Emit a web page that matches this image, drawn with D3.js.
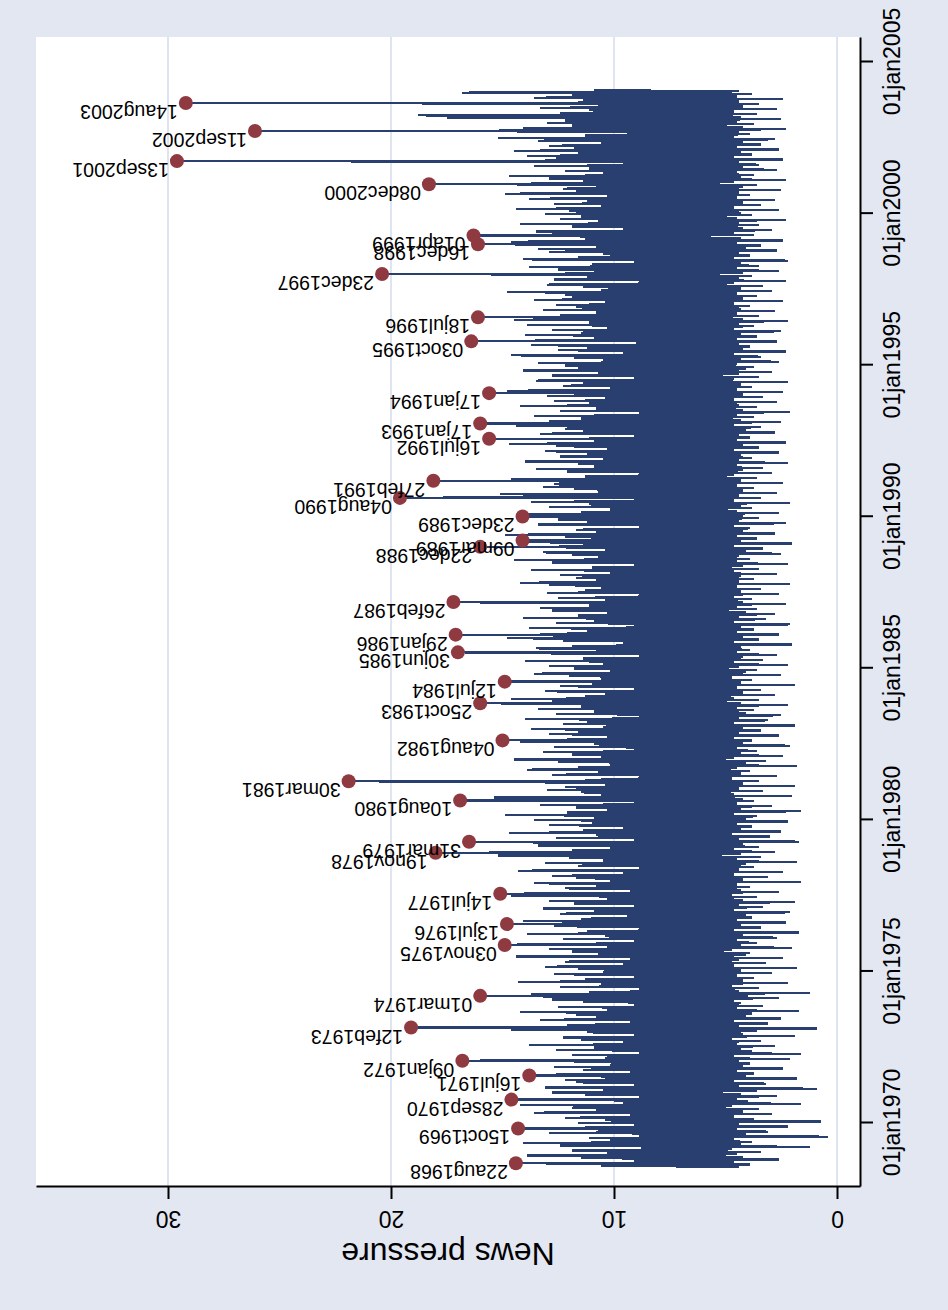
<!DOCTYPE html>
<html>
<head>
<meta charset="utf-8">
<script src="https://cdn.jsdelivr.net/npm/d3@7"></script>
<style>
  body { margin: 0; background: #e2e7f1; }
  svg { display: block; }
  text { font-family: "Liberation Sans", Arial, sans-serif; }
</style>
</head>
<body>
<svg id="chart" width="948" height="1310"></svg>
<script>
// half-monthly news pressure readings, one block per four years
const pressure1968to1971 = [
  4.4,10.6, 3.9,12.8, 4.6,9.1, 2.6,11.5, 4.2,13.9, 4.5,10.3,
  3.4,11.9, 4.7,8.8, 1.2,12.4, 4.3,14.1, 3.8,10.2, 4.6,11.1, 0.4,8.9, 4.1,12.9, 3.1,10.7, 4.5,13.2, 2.2,9.1, 4.4,11.6,
  0.7,10.4, 3.7,12.2, 4.6,9.3, 2.9,13.6, 4.2,10.8, 3.5,11.9, 4.7,14.2, 1.6,9.6, 4.0,12.5, 4.5,8.9, 2.7,11.3, 4.3,12.8,
  3.6,10.5, 0.9,13.1, 4.4,9.1, 3.2,11.7, 4.6,12.2, 1.8,10.6, 4.1,14.0, 3.7,9.3, 4.5,11.4, 2.4,12.7, 4.2,10.2, 3.9,11.8
];
const pressure1972to1975 = [
  4.4,13.4, 2.1,10.4, 4.6,11.9, 1.6,8.9, 3.8,12.6, 4.3,10.9, 2.8,13.8, 4.5,9.6, 3.4,11.5, 4.7,12.3, 1.9,9.1, 4.2,11.2,
  3.6,14.6, 0.9,10.6, 4.4,12.1, 3.1,9.3, 4.6,13.3, 2.5,10.8, 4.1,11.7, 3.8,14.2, 1.7,10.3, 4.5,12.5, 3.3,9.1, 4.3,11.4,
  4.6,12.8, 2.6,10.2, 4.0,13.7, 1.2,11.1, 4.4,8.9, 3.5,12.4, 4.7,10.6, 2.2,14.3, 4.2,11.3, 3.7,9.1, 4.5,12.7, 2.9,10.5,
  4.3,11.6, 1.8,13.1, 4.6,9.6, 3.2,12.2, 4.4,9.3, 2.4,14.4, 4.1,10.7, 3.9,11.9, 4.7,12.9, 2.0,10.3, 4.3,13.5, 3.6,9.1
];
const pressure1976to1979 = [
  4.5,12.3, 2.7,10.4, 4.2,13.9, 1.7,11.2, 4.6,8.9, 3.4,12.7, 4.3,10.6, 2.3,14.1, 4.5,11.5, 3.8,9.4, 4.1,12.4, 2.1,10.9,
  4.6,13.2, 3.3,9.1, 4.4,11.8, 1.9,12.9, 4.2,10.3, 3.6,14.6, 4.7,11.1, 2.6,9.3, 4.3,12.2, 3.9,10.8, 4.5,13.6, 1.6,10.2,
  4.2,11.7, 3.1,12.8, 4.6,9.6, 2.4,14.3, 4.4,8.9, 3.7,11.6, 4.1,13.1, 1.8,10.5, 4.5,12.0, 3.4,15.2, 4.3,10.7, 2.8,11.9,
  4.6,10.2, 3.5,13.4, 4.2,11.3, 1.7,9.1, 4.4,12.6, 3.0,10.8, 4.7,14.7, 2.5,11.4, 4.3,9.6, 3.8,12.9, 4.5,11.0, 2.2,13.6
];
const pressure1980to1983 = [
  4.1,10.9, 3.6,14.9, 4.6,12.1, 1.6,10.3, 4.3,11.7, 2.9,13.3, 4.5,9.1, 3.7,12.4, 4.2,15.4, 2.0,10.6, 4.6,11.5, 3.3,13.0,
  4.4,12.2, 1.9,10.4, 4.2,14.1, 3.5,11.3, 4.7,8.9, 2.7,12.8, 4.3,10.7, 3.9,13.9, 4.5,11.6, 1.8,10.2, 4.1,12.5, 3.2,14.5,
  4.6,10.6, 2.4,11.9, 4.3,13.2, 3.6,9.1, 4.5,12.7, 2.1,10.9, 4.2,14.2, 3.8,11.1, 4.6,10.3, 2.6,12.9, 4.4,11.6, 3.4,13.7,
  4.2,10.5, 1.9,12.3, 4.6,11.2, 3.1,14.0, 4.4,8.9, 2.5,12.6, 4.1,10.9, 3.7,13.4, 4.5,11.5, 2.2,10.2, 4.3,12.8, 3.5,14.6
];
const pressure1984to1987 = [
  4.6,11.3, 2.8,10.4, 4.2,13.1, 3.4,9.1, 4.5,12.4, 1.9,11.0, 4.3,14.3, 3.8,10.6, 4.7,12.0, 2.5,13.6, 4.1,10.2, 3.6,11.8,
  4.4,12.9, 2.2,10.5, 4.6,14.0, 3.3,11.4, 4.2,8.9, 2.7,12.7, 4.5,10.8, 3.9,13.5, 4.3,11.9, 2.0,9.6, 4.6,12.3, 3.5,14.8,
  4.2,10.7, 2.6,12.1, 4.5,11.2, 3.7,13.8, 4.3,9.1, 2.1,12.6, 4.6,10.9, 3.2,14.1, 4.4,11.6, 2.8,10.3, 4.1,12.8, 3.6,13.3,
  4.5,11.1, 2.3,14.4, 4.2,10.4, 3.8,12.5, 4.6,8.9, 2.6,13.0, 4.3,11.3, 3.4,10.6, 4.5,12.9, 2.1,14.2, 4.4,10.8, 3.7,11.7
];
const pressure1988to1991 = [
  4.3,12.4, 2.7,10.2, 4.6,13.7, 3.5,11.0, 4.2,9.1, 2.2,12.8, 4.5,14.5, 3.9,10.7, 4.4,11.9, 2.5,13.2, 4.1,10.4, 3.3,12.6,
  4.6,11.4, 2.0,13.9, 4.3,10.3, 3.6,12.2, 4.5,14.9, 2.8,10.8, 4.2,11.7, 3.9,8.9, 4.6,13.4, 2.3,11.2, 4.4,12.5, 3.5,10.6,
  4.2,14.3, 2.6,11.5, 4.5,10.2, 3.8,12.9, 4.3,11.1, 2.1,13.7, 4.6,9.1, 3.4,12.3, 4.4,15.1, 2.7,10.7, 4.2,11.8, 3.7,13.2,
  4.5,12.7, 2.4,10.4, 4.3,14.6, 3.6,11.3, 4.6,8.9, 2.9,12.1, 4.2,13.5, 3.3,10.9, 4.5,11.6, 2.2,14.0, 4.4,10.5, 3.8,12.4
];
const pressure1992to1995 = [
  4.3,11.2, 2.6,13.1, 4.6,10.3, 3.5,12.6, 4.2,14.7, 2.3,10.9, 4.5,11.8, 3.9,9.1, 4.4,13.3, 2.8,11.4, 4.1,12.2, 3.4,14.4,
  4.6,10.6, 2.5,12.9, 4.3,11.5, 3.7,13.6, 4.5,8.9, 2.1,12.4, 4.2,10.8, 3.6,14.2, 4.4,11.1, 2.7,12.7, 4.6,10.4, 3.3,13.0,
  4.2,11.9, 2.4,14.8, 4.5,10.2, 3.8,12.3, 4.3,11.4, 2.2,13.5, 4.6,9.1, 3.5,12.8, 4.4,10.7, 2.9,14.1, 4.1,11.6, 3.7,12.2,
  4.5,13.4, 2.6,10.5, 4.3,11.8, 3.4,14.6, 4.6,9.6, 2.3,12.5, 4.2,11.2, 3.9,13.7, 4.4,8.9, 2.7,12.0, 4.5,10.9, 3.6,14.0
];
const pressure1996to1999 = [
  4.3,11.5, 2.5,12.8, 4.6,10.3, 3.7,13.9, 4.4,11.1, 2.2,14.5, 4.2,9.1, 3.5,12.4, 4.5,10.8, 2.8,13.2, 4.3,11.7, 3.9,12.6,
  4.6,10.4, 2.4,13.6, 4.2,11.9, 3.6,12.2, 4.5,14.8, 2.9,10.6, 4.3,11.4, 3.3,13.0, 4.6,8.9, 2.3,12.7, 4.4,11.2, 3.8,14.3,
  4.2,10.9, 2.6,12.5, 4.5,13.8, 3.5,11.0, 4.3,9.1, 2.2,14.1, 4.6,11.6, 3.9,10.5, 4.4,12.9, 2.7,13.4, 4.1,10.8, 3.4,12.3,
  4.5,14.6, 2.4,11.3, 4.3,10.4, 3.7,12.8, 4.6,13.5, 2.9,9.6, 4.2,11.9, 3.5,14.2, 4.4,10.7, 2.3,12.4, 4.5,11.5, 3.8,13.1
];
const pressure2000to2003 = [
  4.3,12.0, 2.6,14.4, 4.6,10.6, 3.4,12.7, 4.2,11.2, 2.8,13.8, 4.5,10.3, 3.9,14.9, 4.4,11.7, 2.5,12.3, 4.2,10.8, 3.6,13.5,
  4.6,11.4, 2.3,12.9, 4.3,14.7, 3.7,10.5, 4.5,12.2, 2.7,11.1, 4.2,13.6, 3.5,9.6, 4.4,15.6, 2.4,12.6, 4.6,13.9, 3.8,11.6,
  4.3,14.5, 2.6,11.8, 4.5,12.9, 3.4,10.6, 4.2,13.4, 2.8,15.2, 4.6,11.3, 3.9,9.4, 4.4,12.7, 2.3,14.1, 4.2,11.9, 3.7,13.0,
  4.5,12.2, 2.5,17.5, 4.3,18.8, 3.6,12.4, 4.6,11.1, 2.7,13.3, 4.2,10.7, 3.5,12.5, 4.4,11.4, 2.4,13.6, 4.5,11.9, 3.8,16.8,
  4.4,10.9
];
const blockStarts = ["08jul1968", "01jan1972", "01jan1976", "01jan1980", "01jan1984",
                     "01jan1988", "01jan1992", "01jan1996", "01jan2000"];
const blockValues = [pressure1968to1971, pressure1972to1975, pressure1976to1979, pressure1980to1983,
                     pressure1984to1987, pressure1988to1991, pressure1992to1995, pressure1996to1999,
                     pressure2000to2003];

// labelled peak days
const peakDates = ["22aug1968", "15oct1969", "28sep1970", "16jul1971", "09jan1972", "12feb1973",
                   "01mar1974", "03nov1975", "13jul1976", "14jul1977", "19nov1978", "31mar1979",
                   "10aug1980", "30mar1981", "04aug1982", "25oct1983", "12jul1984", "30jun1985",
                   "29jan1986", "26feb1987", "22dec1988", "09mar1989", "23dec1989", "04aug1990",
                   "27feb1991", "16jul1992", "17jan1993", "17jan1994", "03oct1995", "18jul1996",
                   "23dec1997", "16dec1998", "01apr1999", "08dec2000", "13sep2001", "11sep2002",
                   "14aug2003"];
const peakValues = [14.4, 14.3, 14.6, 13.8, 16.8, 19.1,
                    16.0, 14.9, 14.8, 15.1, 18.0, 16.5,
                    16.9, 21.9, 15.0, 16.0, 14.9, 17.0,
                    17.1, 17.2, 16.0, 14.1, 14.1, 19.6,
                    18.1, 15.6, 16.0, 15.6, 16.4, 16.1,
                    20.4, 16.1, 16.3, 18.3, 29.6, 26.1,
                    29.2];

const valueTicks = [0, 10, 20, 30];
const dateTicks = ["01jan1970", "01jan1975", "01jan1980", "01jan1985", "01jan1990",
                   "01jan1995", "01jan2000", "01jan2005"];

const parseDay = d3.utcParse("%d%b%Y");
const dayMs = 864e5;
const stepDays = 365.25 / 24;

let series = [];
blockValues.forEach(function (vals, b) {
    const start = parseDay(blockStarts[b]);
    vals.forEach(function (v, i) {
        series.push({ date: new Date(start.getTime() + i * stepDays * dayMs), value: v });
    });
});
const peaks = peakDates.map(function (d, i) { return { label: d, date: parseDay(d), value: peakValues[i] }; });
series = series.concat(peaks).sort(function (a, b) { return a.date - b.date; });

const plot = { left: 36, right: 860, top: 37, bottom: 1186 };
const svg = d3.select("#chart");

// News pressure runs right to left along the bottom
let x = d3.scaleLinear().domain([0, 30]).range([837, 168]);
x = x.copy().domain([x.invert(plot.right), x.invert(plot.left)]).range([plot.right, plot.left]);

// time runs bottom to top on the right
let y = d3.scaleUtc().domain([parseDay("01jan1970"), parseDay("01jan2005")]).range([1122, 61]);
y = y.copy().domain([y.invert(plot.bottom), y.invert(plot.top)]).range([plot.bottom, plot.top]);

svg.append("rect").attr("width", 948).attr("height", 1310).attr("fill", "#e2e7f1");
svg.append("rect")
    .attr("x", plot.left).attr("y", plot.top)
    .attr("width", plot.right - plot.left).attr("height", plot.bottom - plot.top)
    .attr("fill", "#ffffff");

svg.append("g").selectAll("line").data(valueTicks).enter()
    .append("line")
        .attr("x1", function (d) { return x(d); })
        .attr("x2", function (d) { return x(d); })
        .attr("y1", plot.top).attr("y2", plot.bottom)
        .attr("stroke", "#dfe5f0").attr("stroke-width", 2);

const line = d3.line()
    .x(function (d) { return x(d.value); })
    .y(function (d) { return y(d.date); });

svg.append("path").datum(series)
    .attr("d", line)
    .attr("fill", "none")
    .attr("stroke", "#283f6f")
    .attr("stroke-width", 2.2)
    .attr("shape-rendering", "crispEdges");

svg.append("g").selectAll("circle").data(peaks).enter()
    .append("circle")
        .attr("cx", function (d) { return x(d.value); })
        .attr("cy", function (d) { return y(d.date); })
        .attr("r", 7)
        .attr("fill", "#8f3a40");

svg.append("g").selectAll("text").data(peaks).enter()
    .append("text")
        .attr("transform", function (d) { return "translate(" + (x(d.value) - 8) + "," + (y(d.date) + 2) + ") rotate(180)"; })
        .attr("font-size", 19.5)
        .attr("fill", "#000")
        .text(function (d) { return d.label; });

// bottom axis
const bottomAxis = d3.axisBottom(x).tickValues(valueTicks).tickSize(13).tickSizeOuter(0).tickFormat(d3.format("d"));
const gb = svg.append("g").attr("transform", "translate(0," + plot.bottom + ")").call(bottomAxis);
gb.select(".domain").attr("stroke", "#000").attr("stroke-width", 2);
gb.selectAll(".tick line").attr("stroke", "#000").attr("stroke-width", 2);
gb.selectAll(".tick text")
    .attr("y", 0).attr("dy", 0)
    .attr("transform", "translate(0,25) rotate(180)")
    .attr("font-size", 23).attr("fill", "#000")
    .attr("font-family", "Liberation Sans, Arial, sans-serif");

// right axis
const fmtDay = d3.utcFormat("%d%b%Y");
const rightAxis = d3.axisRight(y).tickValues(dateTicks.map(parseDay)).tickSize(13).tickSizeOuter(0)
    .tickFormat(function (d) { return fmtDay(d).toLowerCase(); });
const gr = svg.append("g").attr("transform", "translate(" + plot.right + ",0)").call(rightAxis);
gr.select(".domain").attr("stroke", "#000").attr("stroke-width", 2);
gr.selectAll(".tick line").attr("stroke", "#000").attr("stroke-width", 2);
gr.selectAll(".tick text")
    .attr("x", 0).attr("dy", 0)
    .attr("transform", "translate(40,0) rotate(-90)")
    .attr("text-anchor", "middle")
    .attr("font-size", 23).attr("fill", "#000")
    .attr("font-family", "Liberation Sans, Arial, sans-serif");

svg.append("text")
    .attr("transform", "translate(" + ((plot.left + plot.right) / 2) + ",1243) rotate(180)")
    .attr("text-anchor", "middle")
    .attr("font-size", 32)
    .attr("fill", "#000")
    .text("News pressure");
</script>
</body>
</html>
